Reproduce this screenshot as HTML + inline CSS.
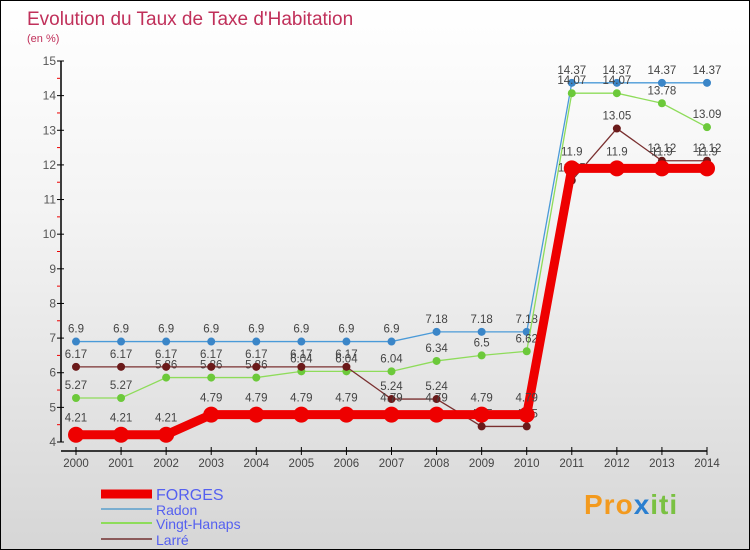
<!DOCTYPE html>
<html><head><meta charset="utf-8"><style>
body{margin:0;}
#wrap{width:750px;height:550px;position:relative;box-sizing:border-box;border:1px solid #000;background:linear-gradient(#ffffff,#f3f3f3 40%,#d6d6d6);font-family:"Liberation Sans",sans-serif;overflow:hidden}
svg{position:absolute;left:0;top:0}
</style></head><body>
<div id="wrap">
<svg id="c" width="750" height="550">
<text x="26" y="24" font-size="19" fill="#c0305a">Evolution du Taux de Taxe d'Habitation</text>
<text x="26" y="41" font-size="11" fill="#c0305a">(en %)</text>
</svg>
<div style="position:absolute;left:583px;top:488px;font-size:28px;font-weight:bold;color:#f39a1e;letter-spacing:1px">Pro<span style="color:#2a7fd0">x</span><span style="color:#7ac142">iti</span></div>
</div>
<script>
const years=["2000","2001","2002","2003","2004","2005","2006","2007","2008","2009","2010","2011","2012","2013","2014"];
const yTicks=[4,5,6,7,8,9,10,11,12,13,14,15];
const forges=[4.21,4.21,4.21,4.79,4.79,4.79,4.79,4.79,4.79,4.79,4.79,11.9,11.9,11.9,11.9];
const radon=[6.9,6.9,6.9,6.9,6.9,6.9,6.9,6.9,7.18,7.18,7.18,14.37,14.37,14.37,14.37];
const vingt=[5.27,5.27,5.86,5.86,5.86,6.04,6.04,6.04,6.34,6.5,6.62,14.07,14.07,13.78,13.09];
const larre=[6.17,6.17,6.17,6.17,6.17,6.17,6.17,5.24,5.24,4.45,4.45,11.55,13.05,12.12,12.12];
const svg=document.getElementById('c');const NS='http://www.w3.org/2000/svg';
const X=i=>75+i*(706-75)/(years.length-1);
const Y=v=>441-(v-4)*(441-60)/11;
function mk(t,a,p){const e=document.createElementNS(NS,t);for(const k in a)e.setAttribute(k,a[k]);(p||svg).appendChild(e);return e;}
// axes
const ax=mk('g',{});


mk('line',{x1:60,y1:60,x2:60,y2:441,stroke:'#000','stroke-width':1.5},ax);
mk('line',{x1:60,y1:450,x2:706,y2:450,stroke:'#000','stroke-width':1.5},ax);
yTicks.forEach(v=>{mk('line',{x1:56,y1:Y(v),x2:63,y2:Y(v),stroke:'#000'},ax);
 if(v<15)mk('line',{x1:56,y1:Y(v+0.5),x2:59,y2:Y(v+0.5),stroke:'#e00'},ax);
 const t=mk('text',{x:55,y:Y(v)+4,'font-size':12,fill:'#555','text-anchor':'end'},ax);t.textContent=v;
 
 });
years.forEach((y,i)=>{mk('line',{x1:X(i),y1:446,x2:X(i),y2:454,stroke:'#000'},ax);
 const t=mk('text',{x:X(i),y:466,'font-size':11.5,fill:'#444','text-anchor':'middle'},ax);t.textContent=y;
 
 });
function series(name,data,color,lw,r,dotColor){
 const g=mk('g',{});
 
 
 mk('polyline',{points:data.map((v,i)=>X(i)+','+Y(v)).join(' '),fill:'none',stroke:color,'stroke-width':lw},g);
 data.forEach((v,i)=>{const c=mk('circle',{cx:X(i),cy:Y(v),r:r,fill:dotColor},g);
  
  
  const t=mk('text',{x:X(i),y:Y(v)-(r+5),'font-size':11.5,fill:'#444','text-anchor':'middle'},g);t.textContent=v;
  
  });
}
series('radon',radon,'#4a9ad8',1.3,4,'#3b86c8');
series('vingt-hanaps',vingt,'#8edc5a',1.3,4,'#6cc93a');
series('larre',larre,'#7a3030',1.3,4,'#6b1a1a');
series('forges',forges,'#ee0000',9,8,'#ee0000');
// legend
const lg=[['FORGES','#ee0000',9,16],['Radon','#7aaed0',2,14],['Vingt-Hanaps','#8edc5a',2,14],['Larré','#8b5a5a',2,14]];
const ys=[493,508,522,538];
lg.forEach((l,i)=>{const g=mk('g',{});
 
 
 mk('line',{x1:100,y1:ys[i],x2:151,y2:ys[i],stroke:l[1],'stroke-width':l[2]},g);
 const t=mk('text',{x:155,y:ys[i]+6,'font-size':l[3],fill:'#5560f0'},g);t.textContent=l[0];});
</script>
</body></html>
